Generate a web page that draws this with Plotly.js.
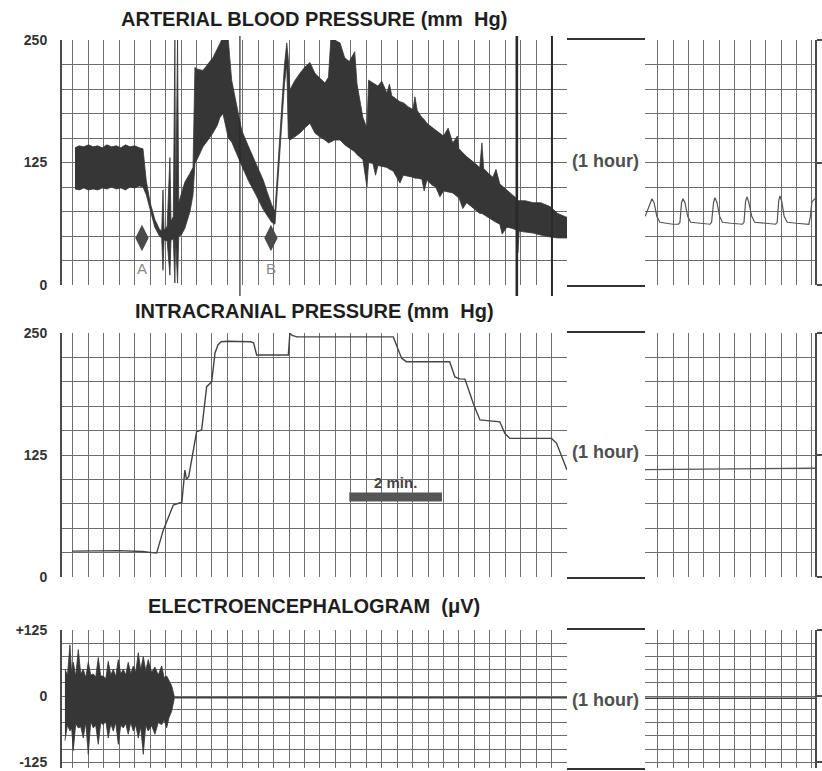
<!DOCTYPE html>
<html><head><meta charset="utf-8">
<script src="https://cdn.plot.ly/plotly-3.0.1.min.js"></script>
<style>html,body{margin:0;padding:0;background:#fff}#chart{width:822px;height:771px}</style>
</head><body><div id="chart"></div>
<script>
// ---------- DATA (time in seconds of chart paper; one grid square = 20 s) ----------
// Arterial blood pressure: envelope of the pulsatile trace (mm Hg)
const abpTime = [2.6,8,14,20,26,32,38,44,50,56,62,68,74,80,86,90.7,
  95,100,106,112,115,116.6,118,122,125.6,127,130,132,133,135.5,137,141,145,151.6,155.5,
  158,162,168.4,175,181.3,187,190.4,192.5,194.3,199,201.2,205.6,212,218.5,227,237,246.5,252,257.4,
  261.7,268,274,277,279,281,287,294,300,307,313.5,320,326.4,331,334,339,346,352,358,365,368,375.6,380.8,
  383,388.6,392,395,400,406.7,410,413,415,423.6,428,434,440.4,443,446,452,455,458.5,465,470,475.4,480,486,492,498,500,505,510,518,527,529.8,532,538,544,548,553,556,562,568,575,576.4,578,586,596,606,618,628,640];
const abpHigh = [140,142,141,143,141,142,140,143,141,142,140,143,141,142,140,139,
  106,84,67,57,55,97,56,60,130,65,70,250,76,250,84,95,105,114,120,
  222,220,219,226,232,241,246,250,250,250,250,209,184,158,142,124,107,94,82,
  75,150,225,247,230,199,208,216,222,227,216,211,206,212,250,250,247,232,228,238,205,171,160,
  209,206,204,203,208,196,205,193,192,187,186,182,179,192,178,171,169,165,161,158,155,152,160,145,152,139,135,131,126,120,145,119,114,110,118,103,101,97,92,88,86,86,86,84,84,80,73,69];
const abpLow = [98,97,99,97,98,97,99,98,100,98,99,97,100,99,101,100,
  92,76,59,50,48,15,46,45,10,46,47,2,47,2,49,52,58,75,92,
  124,130,141,148,155,163,171,173,175,158,150,146,134,122,107,92,77,70,64,
  62,132,205,225,150,148,151,155,160,165,155,151,148,145,146,148,148,143,140,136,133,128,100,
  125,124,112,122,121,120,118,117,116,104,112,111,110,109,109,108,96,107,102,100,90,96,95,94,90,89,78,84,79,73,73,72,69,66,64,62,52,59,58,56,33,55,54,53,51,49,48,48];
const abpMarkTime = [89.4, 256.5];
const abpMarkValue = [48, 48];
const abpMarkLabel = ['A', 'B'];
const abpMarkLabelValue = [15, 15];
const abpEventTime = [216.3, 575, 620.5];
// after the 1-hour gap
const abpLateTime  = [-16,-13,-10,-7.3,-4.5,-1,3,10,20,27,29,31,33,35.5,39,43,55,68,70,72.5,74.4,77,80.5,84,95,110,112,114,115.8,118,122,126,140,153,155,157,158.6,161,164,168,180,196,198,200,204];
const abpLateValue = [70,76,84,88,84,70,64,63,62,62,64,84,88,84,70,64,63,62,64,84,89,84,70,64,63,62,64,85,90,85,70,64,63,62,64,86,91,85,70,64,63,62,70,85,88];

// Intracranial pressure (mm Hg)
const icpTime  = [-1.3,30,60,90,108.4,117,130,138.6,141,145,147,150,153.8,160.2,166.7,173.2,179.7,184,188,192,200,215,230,234,238,250,265,279,281,284,290,320,360,400,415,425.8,432,460,488,494.8,501,507.8,518.5,527.2,540,553,559.6,566,590,620,626.5,640];
const icpValue = [26.5,26.8,27,26.2,24.5,48,73.8,76,76,109.6,100,103,120,149,150.6,195,200,229.5,238,241,241.5,241.5,241,240,227.5,227.5,227.5,227.5,249.7,247.5,246,246,246.5,246.5,246,224,220.6,220.6,220.6,205,203,202.8,178,160.9,160,159,147,142,142,142,137,109.6];
const icpLateTime  = [-16.3, 40, 100, 150, 204];
const icpLateValue = [110, 110.5, 111, 111, 111.5];
const scaleBarTime = [358, 478];
const scaleBarValue = [82, 82];

// Electroencephalogram (µV): envelope of the activity burst, then isoelectric line
const eegTime = [-10.4,-7.1,-3.9,-1.7,0.4,3.6,6.9,10.1,13.3,16.6,19.8,23.1,26.3,29.5,32.8,36,39.2,42.5,45.7,49,52.2,55.4,58.7,61.9,65.2,68.4,71.6,74.9,78.1,81.3,84.6,87.8,91.1,94.3,97.5,101.9,106.2,110.5,114.9,118.1,121.4,124.6,127.8,131.2];
const eegHigh = [51,40,97,45,64,38,88,42,51,35,64,40,42,36,73,38,38,33,66,40,51,37,69,42,51,40,64,42,57,45,82,50,75,48,69,45,55,40,57,35,38,28,20,0];
const eegLow  = [-84,-55,-66,-60,-103,-52,-60,-58,-79,-50,-110,-48,-60,-55,-91,-50,-54,-47,-79,-52,-66,-50,-91,-55,-60,-52,-72,-50,-66,-55,-79,-58,-110,-55,-66,-56,-72,-50,-54,-45,-60,-40,-29,-5];
const eegFlatTime = [131.2, 640];
const eegFlatValue = [-3, -3];
const eegLateTime = [-16.3, 204];
const eegLateValue = [-4, -4];

// axis ticks / labels
const pressTickVals = [0, 125, 250];
const pressTickText = ['0', '125', '250'];
const eegTickVals = [-125, 0, 125];
const eegTickText = ['-125', '0', '+125'];
const titles = ['ARTERIAL BLOOD PRESSURE (mm\u00a0 Hg)', 'INTRACRANIAL PRESSURE (mm\u00a0 Hg)', 'ELECTROENCEPHALOGRAM\u00a0 (\u03bcV)'];
const gapText = '(1 hour)';
const scaleBarText = '2 min.';

// ---------- STYLE / LAYOUT ----------
const W = 822, H = 771;
const px = v => v / W, py = v => 1 - v / H;
const domL = [px(62), px(567)], domG = [px(567), px(645)], domR = [px(645), px(815)];
const domY = [[py(285), py(40)], [py(577), py(333)], [py(768.1), py(630)]];
const eegRange = [-136, 125];
const GRID = '#6e6e6e', FRAME = '#4a4a4a', INK = '#363636';
const FONT = 'Liberation Sans, Arial, Helvetica, sans-serif';

function xLeft(anchor){ return {domain:domL, anchor, range:[-14.2,640], tickmode:'linear', tick0:0, dtick:20, showgrid:true, gridcolor:GRID, gridwidth:1, showticklabels:false, ticks:'', zeroline:false, showline:false, fixedrange:true}; }
function xRight(anchor){ return {domain:domR, anchor, range:[-16.3,204], tickmode:'linear', tick0:0, dtick:20, showgrid:true, gridcolor:GRID, gridwidth:1, showticklabels:false, ticks:'', zeroline:false, showline:false, fixedrange:true}; }
function xGap(anchor){ return {domain:domG, anchor, range:[0,1], showgrid:false, showline:true, mirror:true, linecolor:'#333', linewidth:2, showticklabels:false, ticks:'', zeroline:false}; }
function yLeft(dom, anchor, range, t0, vals, text){ return {domain:dom, anchor, range, tickmode:'array', tickvals:vals, ticktext:text, ticks:'', ticklabelstandoff:10, ticklabeloverflow:'allow', showline:true, linecolor:FRAME, linewidth:2, showgrid:true, gridcolor:GRID, gridwidth:1, zeroline:false, tickfont:{family:FONT, size:14, color:'#333', weight:700}, minor:{tickmode:'linear', tick0:t0, dtick:25, showgrid:true, gridcolor:GRID, gridwidth:1, ticks:''}, fixedrange:true}; }
function yRight(dom, anchor, range, t0, vals){ return {domain:dom, anchor, side:'right', range, tickmode:'array', tickvals:vals, showticklabels:false, ticks:'outside', ticklen:7, tickwidth:2, tickcolor:FRAME, showline:true, linecolor:FRAME, linewidth:2, showgrid:true, gridcolor:GRID, gridwidth:1, zeroline:false, minor:{tickmode:'linear', tick0:t0, dtick:25, showgrid:true, gridcolor:GRID, gridwidth:1, ticks:''}, fixedrange:true}; }
function yGap(dom, anchor, range){ return {domain:dom, anchor, range, showgrid:false, showline:false, showticklabels:false, ticks:'', zeroline:false}; }

const rev = a => a.slice().reverse();
const data = [];
// ABP band
data.push({type:'scatter', mode:'lines', x:abpTime.concat(rev(abpTime)), y:abpHigh.concat(rev(abpLow)), fill:'toself', fillcolor:INK, line:{color:INK, width:0.8}, xaxis:'x', yaxis:'y', hoverinfo:'skip'});
data.push({type:'scatter', mode:'markers', x:abpMarkTime, y:abpMarkValue, marker:{symbol:'diamond-tall', size:19, color:'#4a4a4a'}, xaxis:'x', yaxis:'y', hoverinfo:'skip'});
data.push({type:'scatter', mode:'text', x:abpMarkTime, y:abpMarkLabelValue, text:abpMarkLabel, textfont:{family:FONT, size:15, color:'#8a8a8a'}, xaxis:'x', yaxis:'y', hoverinfo:'skip'});
data.push({type:'scatter', mode:'lines', x:abpLateTime, y:abpLateValue, line:{color:'#555', width:1.2}, xaxis:'x2', yaxis:'y2', hoverinfo:'skip'});
data.push({type:'scatter', x:[], y:[], xaxis:'x3', yaxis:'y3'});
// ICP
data.push({type:'scatter', mode:'lines', x:icpTime, y:icpValue, line:{color:'#444', width:1.4}, xaxis:'x4', yaxis:'y4', hoverinfo:'skip'});
data.push({type:'scatter', mode:'lines', x:scaleBarTime, y:scaleBarValue, line:{color:'#555', width:9}, xaxis:'x4', yaxis:'y4', hoverinfo:'skip'});
data.push({type:'scatter', mode:'lines', x:icpLateTime, y:icpLateValue, line:{color:'#555', width:1.4}, xaxis:'x5', yaxis:'y5', hoverinfo:'skip'});
data.push({type:'scatter', x:[], y:[], xaxis:'x6', yaxis:'y6'});
// EEG
data.push({type:'scatter', mode:'lines', x:eegTime.concat(rev(eegTime)), y:eegHigh.concat(rev(eegLow)), fill:'toself', fillcolor:INK, line:{color:INK, width:0.8}, xaxis:'x7', yaxis:'y7', hoverinfo:'skip'});
data.push({type:'scatter', mode:'lines', x:eegFlatTime, y:eegFlatValue, line:{color:'#444', width:1.4}, xaxis:'x7', yaxis:'y7', hoverinfo:'skip'});
data.push({type:'scatter', mode:'lines', x:eegLateTime, y:eegLateValue, line:{color:'#444', width:1.4}, xaxis:'x8', yaxis:'y8', hoverinfo:'skip'});
data.push({type:'scatter', x:[], y:[], xaxis:'x9', yaxis:'y9'});

const eventWidths = [1.2, 2.6, 2];
const shapes = abpEventTime.map((t, i) => ({type:'line', xref:'x', yref:'paper', x0:t, x1:t, y0:py(296), y1:py(36), line:{color:'#2a2a2a', width:eventWidths[i]}}));

const titleY = [py(19), py(311), py(606)];
const gapY = [py(161), py(452), py(700)];
const annotations = [];
titles.forEach((t, i) => annotations.push({xref:'paper', yref:'paper', x:px(314), y:titleY[i], text:t, showarrow:false, xanchor:'center', yanchor:'middle', font:{family:FONT, size:20, color:'#1e1e1e', weight:700}}));
gapY.forEach(y => annotations.push({xref:'paper', yref:'paper', x:px(605), y, text:gapText, showarrow:false, xanchor:'center', yanchor:'middle', font:{family:FONT, size:18, color:'#4f4f4f', weight:700}}));
annotations.push({xref:'x4', yref:'y4', x:(scaleBarTime[0]+scaleBarTime[1])/2, y:97, text:scaleBarText, showarrow:false, xanchor:'center', yanchor:'middle', font:{family:FONT, size:15, color:'#444', weight:700}});

const layout = {
  width:W, height:H, margin:{l:0, r:0, t:0, b:0}, paper_bgcolor:'#fff', plot_bgcolor:'#fff', showlegend:false,
  xaxis:xLeft('y'), yaxis:yLeft(domY[0], 'x', [0,250], 0, pressTickVals, pressTickText),
  xaxis2:xRight('y2'), yaxis2:yRight(domY[0], 'x2', [0,250], 0, pressTickVals),
  xaxis3:xGap('y3'), yaxis3:yGap(domY[0], 'x3', [0,250]),
  xaxis4:xLeft('y4'), yaxis4:yLeft(domY[1], 'x4', [0,250], 0, pressTickVals, pressTickText),
  xaxis5:xRight('y5'), yaxis5:yRight(domY[1], 'x5', [0,250], 0, pressTickVals),
  xaxis6:xGap('y6'), yaxis6:yGap(domY[1], 'x6', [0,250]),
  xaxis7:xLeft('y7'), yaxis7:yLeft(domY[2], 'x7', eegRange, -125, eegTickVals, eegTickText),
  xaxis8:xRight('y8'), yaxis8:yRight(domY[2], 'x8', eegRange, -125, eegTickVals),
  xaxis9:xGap('y9'), yaxis9:yGap(domY[2], 'x9', eegRange),
  shapes, annotations
};
Plotly.newPlot('chart', data, layout, {staticPlot:true, displayModeBar:false});
</script></body></html>
